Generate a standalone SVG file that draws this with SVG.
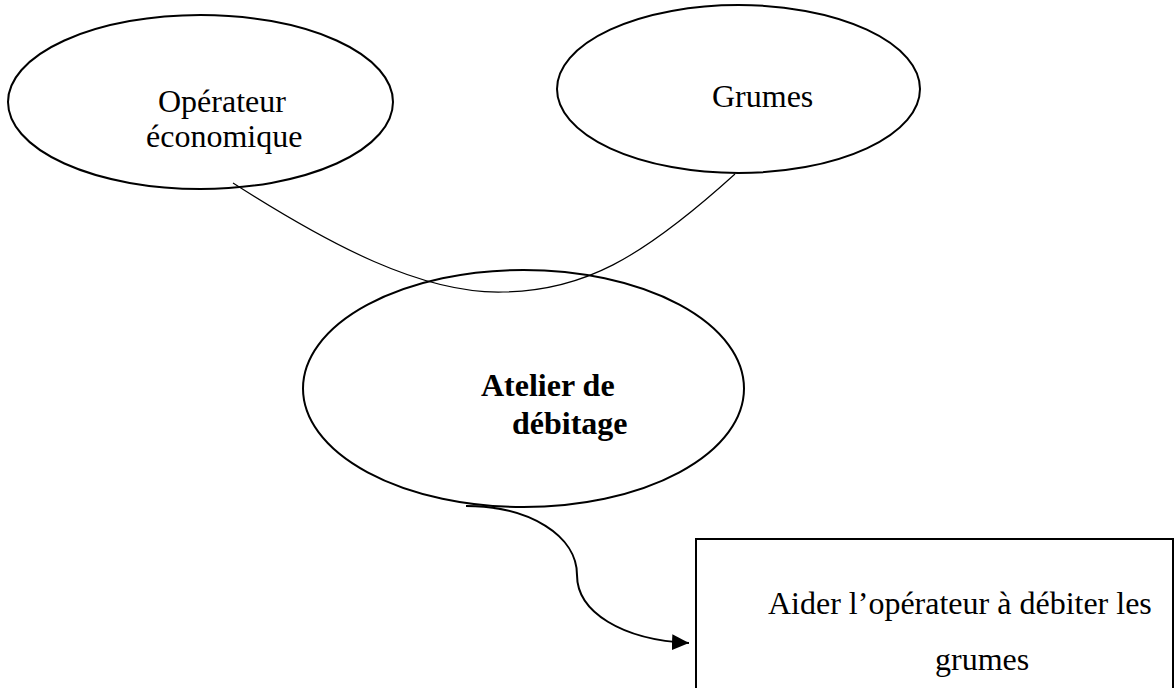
<svg xmlns="http://www.w3.org/2000/svg" width="1175" height="688" viewBox="0 0 1175 688">
  <style>
    .shape { fill: none; stroke: #000; stroke-width: 2; }
    .label { font-family: "Liberation Serif", "Times New Roman", serif; font-size: 32px; fill: #000; }
    .bold { font-weight: bold; }
    .link { fill: none; stroke: #000; stroke-width: 1.2; }
    .flow { fill: none; stroke: #000; stroke-width: 2; }
  </style>
  <defs>
    <marker id="arrow" markerUnits="userSpaceOnUse" markerWidth="18" markerHeight="16" refX="17" refY="8" orient="auto">
      <path d="M0,0 L17,8 L0,16 Z" fill="#000"/>
    </marker>
  </defs>
  <rect width="1175" height="688" fill="#fff"/>

  <g id="connectors">
    <path class="link" d="M233,183 C330,245 422,294 503,292 C582,291 640,260 735,174"/>
    <path class="flow" d="M466,506 C530,506 577,536 577,575 C577,612 622,640 689,643" marker-end="url(#arrow)"/>
  </g>

  <g id="operateur">
    <ellipse class="shape" cx="200.5" cy="102" rx="192.5" ry="87"/>
    <text class="label" x="158" y="112">Opérateur</text>
    <text class="label" x="146" y="147">économique</text>
  </g>

  <g id="grumes">
    <ellipse class="shape" cx="738.5" cy="89" rx="181.5" ry="84"/>
    <text class="label" x="712" y="107">Grumes</text>
  </g>

  <g id="atelier">
    <ellipse class="shape" cx="523.5" cy="388.5" rx="220.5" ry="118.5"/>
    <text class="label bold" x="481" y="396">Atelier de</text>
    <text class="label bold" x="512" y="434">débitage</text>
  </g>

  <g id="objectif">
    <rect class="shape" x="696" y="539" width="477" height="152"/>
    <text class="label" x="768" y="614">Aider l’opérateur à débiter les</text>
    <text class="label" x="935" y="670">grumes</text>
  </g>
</svg>
